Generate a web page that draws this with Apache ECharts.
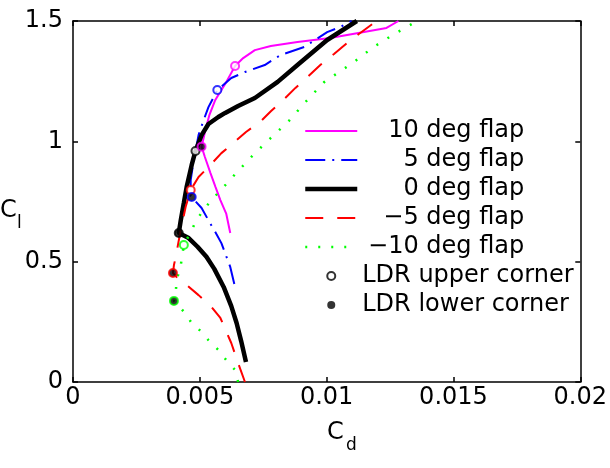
<!DOCTYPE html>
<html>
<head>
<meta charset="utf-8">
<script src="https://cdn.jsdelivr.net/npm/echarts@6/dist/echarts.min.js"></script>
<style>
  html, body { margin: 0; padding: 0; background: #fff; }
  #main { width: 610px; height: 468px; }
</style>
</head>
<body>
<div id="main"></div>
<script>
// Cd / Cl polar curves
var flap10 = [[0.00620,0.619],[0.00604,0.700],[0.00581,0.756],[0.00562,0.810],[0.00542,0.868],[0.00520,0.935],[0.00507,0.978],[0.00514,1.010],[0.00522,1.047],[0.00538,1.110],[0.00561,1.172],[0.00604,1.246],[0.00639,1.313],[0.00671,1.346],[0.00717,1.379],[0.00780,1.396],[0.00885,1.413],[0.01014,1.429],[0.01236,1.471],[0.01283,1.5]];
var flap5 = [[0.00636,0.407],[0.00620,0.478],[0.00585,0.577],[0.00561,0.623],[0.00534,0.672],[0.00507,0.723],[0.00464,0.773],[0.00464,0.839],[0.00476,0.922],[0.00495,1.026],[0.00515,1.088],[0.00534,1.142],[0.00569,1.213],[0.00624,1.263],[0.00678,1.288],[0.00756,1.317],[0.00819,1.359],[0.00912,1.392],[0.01002,1.454],[0.01053,1.475],[0.01099,1.5]];
var flap0 = [[0.00682,0.083],[0.00663,0.170],[0.00645,0.245],[0.00624,0.315],[0.00594,0.395],[0.00557,0.470],[0.00526,0.520],[0.00491,0.562],[0.00456,0.598],[0.00417,0.619],[0.00425,0.673],[0.00437,0.744],[0.00448,0.810],[0.00468,0.902],[0.00483,0.960],[0.00507,1.026],[0.00534,1.072],[0.00573,1.101],[0.00600,1.118],[0.00651,1.147],[0.00717,1.180],[0.00807,1.247],[0.00885,1.317],[0.01002,1.421],[0.01119,1.5]];
var flapM5 = [[0.00678,0.0],[0.00651,0.079],[0.00624,0.162],[0.00581,0.266],[0.00546,0.312],[0.00495,0.361],[0.00448,0.403],[0.00412,0.432],[0.00394,0.453],[0.00398,0.486],[0.00405,0.519],[0.00421,0.611],[0.00444,0.727],[0.00464,0.798],[0.00495,0.852],[0.00534,0.893],[0.00585,0.951],[0.00632,0.993],[0.00682,1.039],[0.00737,1.080],[0.00780,1.125],[0.00827,1.170],[0.00877,1.222],[0.00924,1.267],[0.00975,1.317],[0.01029,1.363],[0.01080,1.408],[0.01127,1.446],[0.01197,1.5]];
var flapM10 = [[0.00651,0.0],[0.00639,0.050],[0.00604,0.091],[0.00573,0.133],[0.00534,0.174],[0.00507,0.208],[0.00468,0.245],[0.00441,0.287],[0.00417,0.316],[0.00398,0.337],[0.00405,0.374],[0.00409,0.424],[0.00425,0.486],[0.00437,0.569],[0.00464,0.623],[0.00487,0.673],[0.00515,0.715],[0.00546,0.756],[0.00612,0.831],[0.00643,0.868],[0.00710,0.943],[0.00780,1.014],[0.00854,1.088],[0.00916,1.163],[0.00990,1.246],[0.01107,1.329],[0.01185,1.392],[0.01267,1.446],[0.01357,1.5]];

// LDR corners, one per curve (10, 5, 0, -5, -10)
var upperCorners = [[0.00639,1.313],[0.00569,1.213],[0.00483,0.960],[0.00464,0.798],[0.00437,0.569]];
var lowerCorners = [[0.00507,0.978],[0.00468,0.769],[0.00417,0.619],[0.00394,0.453],[0.00398,0.337]];

var names = ['10 deg flap', '5 deg flap', '0 deg flap', '\u22125 deg flap', '\u221210 deg flap'];
var colors = ['#ff00ff', '#0000ff', '#000000', '#ff0000', '#00ff00'];
var widths = [2, 2, 4.5, 2, 2.5];
var dashes = ['solid', [20, 7, 2, 7], 'solid', [18, 14], [2, 11]];
var xTickLabels = ['0', '0.005', '0.01', '0.015', '0.02'];
var yTickLabels = ['0', '0.5', '1', '1.5'];

var FONT = 'DejaVu Sans';

var myChart = echarts.init(document.getElementById('main'), null, { renderer: 'canvas' });

var curves = [flap10, flap5, flap0, flapM5, flapM10];

var series = curves.map(function (data, i) {
  return {
    name: names[i],
    type: 'line',
    data: data,
    symbol: 'none',
    smooth: false,
    color: colors[i],
    lineStyle: { color: colors[i], width: widths[i], type: dashes[i] },
    animation: false
  };
});

series.push({
  name: 'LDR upper corner',
  type: 'scatter',
  symbol: 'circle',
  symbolSize: 8,
  itemStyle: { color: '#ffffff', borderColor: '#000000', borderWidth: 1.5 },
  data: upperCorners.map(function (p, i) {
    return { value: p, itemStyle: { color: '#ffffff', borderColor: colors[i], borderWidth: 2 } };
  }),
  z: 5,
  animation: false
});
series.push({
  name: 'LDR lower corner',
  type: 'scatter',
  symbol: 'circle',
  symbolSize: 8,
  itemStyle: { color: '#000000', borderColor: '#000000', borderWidth: 0 },
  data: lowerCorners.map(function (p, i) {
    return { value: p, itemStyle: { color: '#000000', borderColor: colors[i], borderWidth: 2 } };
  }),
  z: 5,
  animation: false
});

// legend: line samples only, no marker in the middle
var hidden = { opacity: 0, color: 'rgba(0,0,0,0)', borderColor: 'rgba(0,0,0,0)', borderWidth: 0 };
var legendData = names.map(function (n, i) {
  return {
    name: n,
    itemStyle: hidden,
    lineStyle: { color: colors[i], width: widths[i], type: dashes[i] }
  };
});
legendData.push({ name: 'LDR upper corner' });
legendData.push({ name: 'LDR lower corner' });

function axisBase(extra) {
  var base = {
    type: 'value',
    axisLine: { show: true, onZero: false, lineStyle: { color: '#000', width: 1.5 } },
    axisTick: { show: true, inside: true, length: 5, lineStyle: { color: '#000', width: 1.5 } },
    splitLine: { show: false }
  };
  return Object.assign(base, extra);
}

var option = {
  backgroundColor: '#ffffff',
  animation: false,
  grid: { left: 73, right: 24, top: 21, bottom: 86, containLabel: false },
  xAxis: [
    axisBase({
      position: 'bottom', min: 0, max: 0.02, interval: 0.005,
      axisLabel: {
        color: '#000', fontSize: 24, fontFamily: FONT, margin: 4,
        formatter: function (v, i) { return xTickLabels[i]; }
      }
    }),
    axisBase({
      position: 'top', min: 0, max: 0.02, interval: 0.005,
      axisLabel: { show: false }
    })
  ],
  yAxis: [
    axisBase({
      position: 'left', min: 0, max: 1.5, interval: 0.5,
      axisLabel: {
        color: '#000', fontSize: 24, fontFamily: FONT, margin: 10,
        formatter: function (v, i) { return yTickLabels[i]; }
      }
    }),
    axisBase({
      position: 'right', min: 0, max: 1.5, interval: 0.5,
      axisLabel: { show: false }
    })
  ],
  legend: {
    orient: 'vertical',
    left: 303,
    top: 119,
    padding: 0,
    itemWidth: 52,
    itemHeight: 8,
    itemGap: 5,
    selectedMode: false,
    data: legendData,
    formatter: function (name) {
      return name.indexOf('LDR') === 0 ? '{l|' + name + '}' : '{r|' + name + '}';
    },
    textStyle: {
      color: '#000', fontSize: 24, fontFamily: FONT, lineHeight: 24,
      rich: {
        r: { width: 162, align: 'right', fontSize: 24, fontFamily: FONT, lineHeight: 24, color: '#000' },
        l: { align: 'left', fontSize: 24, fontFamily: FONT, lineHeight: 24, color: '#000' }
      }
    }
  },
  graphic: [
    { type: 'text', left: 327, top: 421, style: { text: 'C', fontSize: 24, fontFamily: FONT, fill: '#000' } },
    { type: 'text', left: 346, top: 437, style: { text: 'd', fontSize: 17, fontFamily: FONT, fill: '#000' } },
    { type: 'text', left: 0, top: 199, style: { text: 'C', fontSize: 24, fontFamily: FONT, fill: '#000' } },
    { type: 'text', left: 17, top: 215, style: { text: 'l', fontSize: 17, fontFamily: FONT, fill: '#000' } }
  ],
  series: series
};

myChart.setOption(option);
</script>
</body>
</html>
